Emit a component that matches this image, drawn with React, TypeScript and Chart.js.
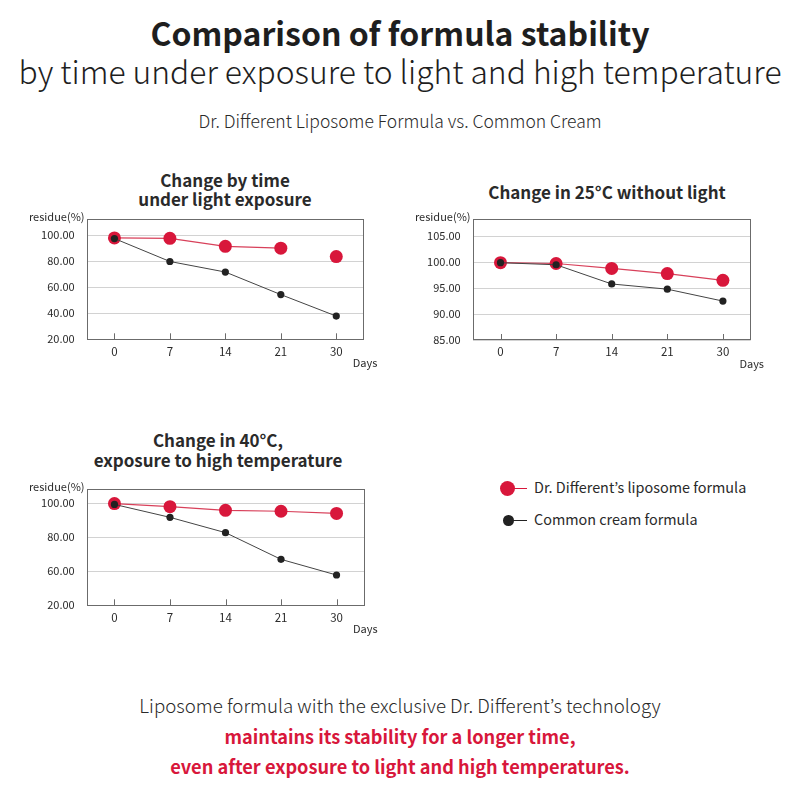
import React, { useEffect, useRef } from "react";
import { Chart, registerables } from "chart.js";

Chart.register(...registerables);

// ---------- data ----------
const days = ["0", "7", "14", "21", "30"];

const lightLiposome = [97.8, 97.5, 91.3, 89.9, 83.5];
const lightCommon = [97.3, 79.7, 71.6, 54.3, 37.8];

const roomLiposome = [99.9, 99.75, 98.8, 97.8, 96.5];
const roomCommon = [99.9, 99.5, 95.8, 94.8, 92.5];

const heatLiposome = [99.8, 98.0, 95.8, 95.3, 94.0];
const heatCommon = [99.3, 91.7, 82.7, 67.0, 57.8];

const lightTickValues = [20, 40, 60, 80, 100];
const lightTickLabels = ["20.00", "40.00", "60.00", "80.00", "100.00"];
const roomTickValues = [85, 90, 95, 100, 105];
const roomTickLabels = ["85.00", "90.00", "95.00", "100.00", "105.00"];
const heatTickValues = [40, 60, 80, 100];
const heatTickLabels = ["20.00", "60.00", "80.00", "100.00"];

const seriesNames = ["Dr. Different’s liposome formula", "Common cream formula"];

// ---------- style ----------
const FONT = '"Noto Sans CJK KR", "Noto Sans", sans-serif';
const RED = "#d8173b";
const RED_LINE = "#d8405a";
const DARK = "#222222";
const TEXT = "#2a2a2a";

type PanelProps = {
  left: number;
  top: number;
  width: number;
  height: number;
  area: { left: number; top: number; right: number; bottom: number };
  yMin: number;
  yMax: number;
  tickValues: number[];
  tickLabels: string[];
  liposome: number[];
  common: number[];
  hideLastRedSegment?: boolean;
};

function Panel(p: PanelProps) {
  const ref = useRef<HTMLCanvasElement | null>(null);
  useEffect(() => {
    if (!ref.current) return;
    const frame = {
      id: "frame",
      beforeDatasetsDraw(chart: any) {
        const { ctx, chartArea: a, scales } = chart;
        const x = scales.x;
        ctx.save();
        ctx.strokeStyle = "#6b6b6b";
        ctx.lineWidth = 1;
        ctx.strokeRect(
          Math.round(a.left) + 0.5,
          Math.round(a.top) + 0.5,
          Math.round(a.width) - 1,
          Math.round(a.height) - 1
        );
        for (let i = 0; i < x.ticks.length; i++) {
          const px = Math.round(x.getPixelForTick(i)) + 0.5;
          ctx.beginPath();
          ctx.moveTo(px, a.bottom);
          ctx.lineTo(px, a.bottom - 6);
          ctx.stroke();
        }
        ctx.restore();
      },
      afterDraw(chart: any) {
        const { ctx, chartArea: a } = chart;
        ctx.save();
        ctx.fillStyle = TEXT;
        ctx.font = `11px ${FONT}`;
        ctx.textAlign = "center";
        ctx.textBaseline = "middle";
        ctx.fillText("residue(%)", a.left - 30, a.top - 2);
        ctx.fillText("Days", a.right + 1, a.bottom + 23.5);
        ctx.restore();
      },
    };
    const chart = new Chart(ref.current, {
      type: "line",
      data: {
        labels: days,
        datasets: [
          {
            label: seriesNames[1],
            data: p.common,
            borderColor: "#444444",
            borderWidth: 1,
            pointRadius: 3.6,
            pointBackgroundColor: DARK,
            pointBorderWidth: 0,
            clip: false as any,
          },
          {
            label: seriesNames[0],
            data: p.liposome,
            borderColor: RED_LINE,
            borderWidth: 1.2,
            pointRadius: 6.5,
            pointBackgroundColor: RED,
            pointBorderWidth: 0,
            clip: false as any,
            segment: p.hideLastRedSegment
              ? {
                  borderColor: (ctx: any) =>
                    ctx.p1DataIndex === p.liposome.length - 1 ? "rgba(0,0,0,0)" : RED_LINE,
                }
              : undefined,
          },
        ],
      },
      options: {
        animation: false,
        responsive: false,
        maintainAspectRatio: false,
        layout: {
          padding: {
            left: 0,
            top: p.area.top,
            right: p.width - p.area.right,
            bottom: 0,
          },
        },
        plugins: {
          legend: { display: false },
          tooltip: { enabled: false },
          title: { display: false },
        },
        scales: {
          x: {
            type: "category",
            offset: true,
            grid: { display: false, drawTicks: false },
            border: { display: false },
            ticks: {
              color: TEXT,
              font: { family: FONT, size: 11.5 },
              padding: 5,
              maxRotation: 0,
            },
            afterFit: (scale: any) => {
              scale.height = p.height - p.area.bottom;
            },
          },
          y: {
            type: "linear",
            min: p.yMin,
            max: p.yMax,
            grid: { color: "#d2d2d2", lineWidth: 1, drawTicks: false },
            border: { display: false },
            afterBuildTicks: (scale: any) => {
              scale.ticks = p.tickValues.map((v) => ({ value: v }));
            },
            ticks: {
              color: TEXT,
              font: { family: FONT, size: 11 },
              padding: 12,
              callback: (v: any) => {
                const i = p.tickValues.indexOf(Number(v));
                return i >= 0 ? p.tickLabels[i] : "";
              },
            },
            afterFit: (scale: any) => {
              scale.width = p.area.left;
            },
          },
        },
      },
      plugins: [frame],
    });
    return () => chart.destroy();
  }, []);
  return (
    <canvas
      ref={ref}
      width={p.width}
      height={p.height}
      style={{ position: "absolute", left: p.left, top: p.top, width: p.width, height: p.height }}
    />
  );
}

function Txt(props: {
  top: number;
  left?: number;
  width?: number;
  size: number;
  weight?: number;
  color?: string;
  lh?: number;
  align?: "center" | "left";
  children: React.ReactNode;
}) {
  return (
    <div
      style={{
        position: "absolute",
        top: props.top,
        left: props.left ?? 0,
        width: props.width ?? 800,
        textAlign: props.align ?? "center",
        fontFamily: FONT,
        fontSize: props.size,
        fontWeight: props.weight ?? 400,
        color: props.color ?? TEXT,
        lineHeight: `${props.lh ?? props.size}px`,
        whiteSpace: "nowrap",
      }}
    >
      {props.children}
    </div>
  );
}

export default function App() {
  return (
    <div
      style={{
        position: "absolute",
        left: 0,
        top: 0,
        width: 800,
        height: 800,
        background: "#ffffff",
        overflow: "hidden",
      }}
    >
      <Txt top={16} size={32} weight={700} color="#1e1e1e">
        Comparison of formula stability
      </Txt>
      <Txt top={54.5} size={31.8} weight={300} color="#1e1e1e">
        by time under exposure to light and high temperature
      </Txt>
      <Txt top={112} size={17.5} weight={300}>
        Dr. Different Liposome Formula vs. Common Cream
      </Txt>

      <Txt top={170} left={25} width={400} size={17} weight={700} lh={19}>
        Change by time
        <br />
        under light exposure
      </Txt>
      <Txt top={182.5} left={407} width={400} size={17} weight={700}>
        Change in 25°C without light
      </Txt>
      <Txt top={430} left={18} width={400} size={17} weight={700} lh={20}>
        Change in 40°C,
        <br />
        exposure to high temperature
      </Txt>

      <Panel
        left={0}
        top={200}
        width={400}
        height={180}
        area={{ left: 86.7, top: 14, right: 364, bottom: 139.3 }}
        yMin={20}
        yMax={112.6}
        tickValues={lightTickValues}
        tickLabels={lightTickLabels}
        liposome={lightLiposome}
        common={lightCommon}
        hideLastRedSegment
      />
      <Panel
        left={400}
        top={200}
        width={400}
        height={180}
        area={{ left: 72.7, top: 13.3, right: 350.7, bottom: 140 }}
        yMin={85}
        yMax={108.4}
        tickValues={roomTickValues}
        tickLabels={roomTickLabels}
        liposome={roomLiposome}
        common={roomCommon}
      />
      <Panel
        left={0}
        top={470}
        width={400}
        height={180}
        area={{ left: 86.7, top: 11, right: 364.3, bottom: 135.3 }}
        yMin={40}
        yMax={108.6}
        tickValues={heatTickValues}
        tickLabels={heatTickLabels}
        liposome={heatLiposome}
        common={heatCommon}
      />

      {/* shared legend */}
      <div style={{ position: "absolute", left: 500, top: 481, width: 15, height: 15, borderRadius: "50%", background: RED }} />
      <div style={{ position: "absolute", left: 512, top: 487.5, width: 15, height: 1.5, background: RED }} />
      <Txt top={480} left={534} width={260} size={14.4} align="left">
        {seriesNames[0]}
      </Txt>
      <div style={{ position: "absolute", left: 503, top: 515, width: 10.5, height: 10.5, borderRadius: "50%", background: DARK }} />
      <div style={{ position: "absolute", left: 510, top: 519.5, width: 17, height: 1.5, background: DARK }} />
      <Txt top={511.5} left={534} width={260} size={14.4} align="left">
        {seriesNames[1]}
      </Txt>

      <Txt top={696} size={18.7} weight={300}>
        Liposome formula with the exclusive Dr. Different’s technology
      </Txt>
      <Txt top={727} size={18.2} weight={700} color={RED}>
        maintains its stability for a longer time,
      </Txt>
      <Txt top={757} size={18.2} weight={700} color={RED}>
        even after exposure to light and high temperatures.
      </Txt>
    </div>
  );
}
